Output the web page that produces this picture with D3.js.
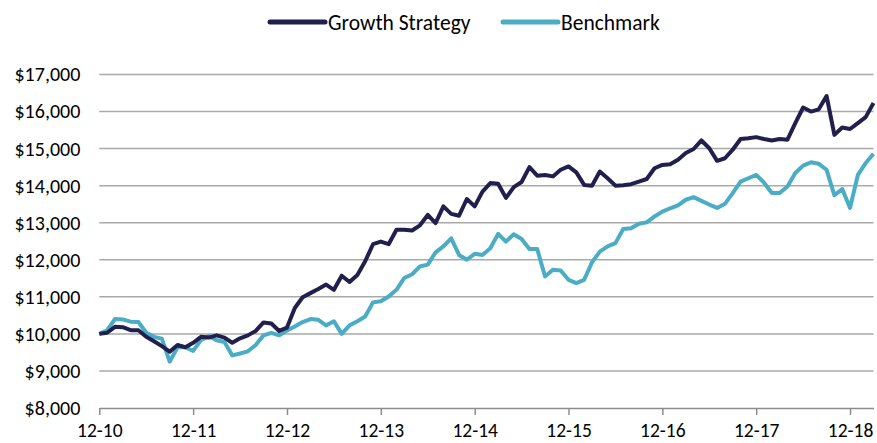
<!DOCTYPE html>
<html>
<head>
<meta charset="utf-8">
<script src="https://cdn.jsdelivr.net/npm/d3@7"></script>
<style>
  body { margin: 0; background: #fff; }
  #chart-container { width: 877px; height: 443px; }
  text { font-family: Carlito, Calibri, Lato, sans-serif; fill: #000; }
</style>
</head>
<body>
<div id="chart-container"></div>
<script>
// Monthly growth of $10,000, Dec 2010 - Mar 2019
const growthStrategy = [
    10000, 10030, 10190, 10180, 10100, 10100, 9920, 9800, 9670, 9520, 9700, 9640,
    9760, 9920, 9900, 9960, 9900, 9760, 9880, 9960, 10080, 10310, 10280, 10080,
    10170, 10700, 10990, 11100, 11210, 11330, 11190, 11570, 11400, 11590, 11960, 12420,
    12490, 12420, 12810, 12810, 12790, 12930, 13210, 12990, 13440, 13240, 13190, 13640,
    13440, 13840, 14070, 14050, 13670, 13960, 14100, 14500, 14270, 14290, 14250, 14430,
    14520, 14360, 14020, 14000, 14380, 14200, 14000, 14010, 14040, 14110, 14180, 14470,
    14560, 14580, 14700, 14880, 14990, 15220, 15010, 14670, 14740, 14970, 15260, 15280,
    15310, 15260, 15220, 15260, 15240, 15690, 16110, 16000, 16060, 16420, 15370, 15570,
    15530, 15690, 15850, 16230
];

const benchmark = [
    10000, 10100, 10400, 10390, 10330, 10320, 10030, 9920, 9870, 9250, 9640, 9640,
    9540, 9830, 9940, 9830, 9780, 9420, 9470, 9530, 9700, 9960, 10030, 9960,
    10090, 10200, 10320, 10400, 10380, 10230, 10340, 10000, 10230, 10340, 10470, 10850,
    10880, 11010, 11190, 11510, 11610, 11820, 11870, 12200, 12360, 12580, 12130, 12000,
    12160, 12130, 12310, 12700, 12490, 12690, 12560, 12290, 12290, 11550, 11730, 11710,
    11460, 11370, 11460, 11930, 12220, 12360, 12450, 12830, 12850, 12970, 13010, 13170,
    13300, 13390, 13470, 13620, 13690, 13590, 13490, 13400, 13510, 13800, 14110, 14200,
    14290, 14080, 13800, 13800, 13980, 14340, 14540, 14630, 14590, 14430, 13740, 13910,
    13400, 14290, 14610, 14860
];

// One tick every December
const xTickIndex = [0, 12, 24, 36, 48, 60, 72, 84, 96];
const xTickLabels = ["12-10", "12-11", "12-12", "12-13", "12-14", "12-15", "12-16", "12-17", "12-18"];
const yTicks = [8000, 9000, 10000, 11000, 12000, 13000, 14000, 15000, 16000, 17000];

const seriesNames = ["Growth Strategy", "Benchmark"];
const seriesColors = ["#211f4e", "#4bacc6"];

const width = 877;
const height = 443;
const margin = { top: 74.5, right: 3.5, bottom: 35, left: 99.3 };

const svg = d3.select("#chart-container").append("svg")
    .attr("width", width)
    .attr("height", height);

const x = d3.scaleLinear()
    .domain([0, growthStrategy.length - 1])
    .range([margin.left, width - margin.right]);

const y = d3.scaleLinear()
    .domain([8000, 17000])
    .range([height - margin.bottom, margin.top]);

// Horizontal gridlines
svg.append("g")
    .selectAll("line")
    .data(yTicks.slice(1))
    .enter().append("line")
    .attr("x1", margin.left)
    .attr("x2", width - margin.right)
    .attr("y1", d => y(d))
    .attr("y2", d => y(d))
    .attr("stroke", "#a9a9a9")
    .attr("stroke-width", 1.5);

// Y axis labels only (no axis line)
const yAxis = d3.axisLeft(y)
    .tickValues(yTicks)
    .tickSize(0)
    .tickPadding(19)
    .tickFormat(d => "$" + d3.format(",")(d));

svg.append("g")
    .attr("transform", "translate(" + margin.left + ",0)")
    .call(yAxis)
    .call(g => g.select(".domain").remove())
    .selectAll("text")
    .style("font-size", "20px")
    .attr("fill", "#000");

// X axis with December ticks
const xAxis = d3.axisBottom(x)
    .tickValues(xTickIndex)
    .tickSize(7)
    .tickSizeOuter(0)
    .tickPadding(8)
    .tickFormat((d, i) => xTickLabels[i]);

const xg = svg.append("g")
    .attr("transform", "translate(0," + y(8000) + ")")
    .call(xAxis);

xg.select(".domain").attr("stroke", "#8c8c8c").attr("stroke-width", 1.5);
xg.selectAll(".tick line").attr("stroke", "#8c8c8c").attr("stroke-width", 1.5);
xg.selectAll("text")
    .style("font-size", "19.5px")
    .attr("fill", "#000");

// Lines
const line = d3.line()
    .x((d, i) => x(i))
    .y(d => y(d));

[benchmark, growthStrategy].forEach((values, k) => {
    svg.append("path")
        .datum(values)
        .attr("fill", "none")
        .attr("stroke", seriesColors[1 - k])
        .attr("stroke-width", 4)
        .attr("stroke-linejoin", "round")
        .attr("d", line);
});

// Legend at the top
const legendX = [270, 503];
const legend = svg.append("g");

seriesNames.forEach((name, i) => {
    legend.append("line")
        .attr("x1", legendX[i])
        .attr("x2", legendX[i] + 55)
        .attr("y1", 22)
        .attr("y2", 22)
        .attr("stroke", seriesColors[i])
        .attr("stroke-width", 5)
        .attr("stroke-linecap", "round");

    legend.append("text")
        .attr("x", legendX[i] + 58)
        .attr("y", 22)
        .attr("dy", "0.35em")
        .style("font-size", "21.5px")
        .text(name);
});
</script>
</body>
</html>
